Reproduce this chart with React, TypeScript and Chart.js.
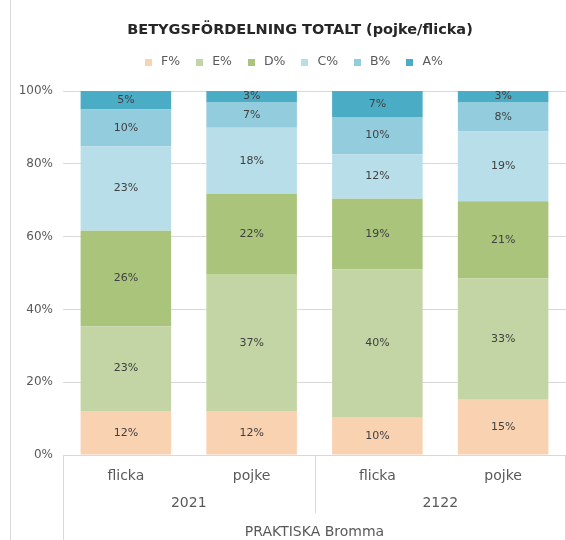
import React, { useEffect, useRef } from "react";
import { Chart, registerables } from "chart.js";

Chart.register(...registerables);

const FONT = "'DejaVu Sans', 'Liberation Sans', sans-serif";

const titleText = "BETYGSFÖRDELNING TOTALT (pojke/flicka)";
const categories = ["flicka", "pojke", "flicka", "pojke"];
const years = ["2021", "2122"];
const schoolLabel = "PRAKTISKA Bromma";
const seriesNames = ["F%", "E%", "D%", "C%", "B%", "A%"];
const F = [12, 12, 10, 15];
const E = [23, 37, 40, 33];
const D = [26, 22, 19, 21];
const C = [23, 18, 12, 19];
const B = [10, 7, 10, 8];
const A = [5, 3, 7, 3];
const yTicks = [0, 20, 40, 60, 80, 100];
const seriesColors = ["#F9D2B2", "#C3D5A4", "#AAC57B", "#B8DEE9", "#93CDDD", "#4BACC6"];

const seriesValues = [F, E, D, C, B, A];

const headerPlugin = {
  id: "header",
  afterDraw(chart: any) {
    const ctx = chart.ctx;
    ctx.save();
    ctx.textBaseline = "middle";
    ctx.textAlign = "center";
    ctx.fillStyle = "#262626";
    ctx.font = `bold 14.5px ${FONT}`;
    ctx.fillText(titleText, 300, 30);

    // legend
    ctx.font = `12.5px ${FONT}`;
    const box = 7;
    const gap = 9;
    const between = 16;
    const widths = seriesNames.map((n) => box + gap + ctx.measureText(n).width);
    const total = widths.reduce((s, w) => s + w, 0) + between * (widths.length - 1);
    let x = 294 - total / 2;
    const y = 62;
    ctx.textAlign = "left";
    seriesNames.forEach((n, i) => {
      ctx.fillStyle = seriesColors[i];
      ctx.fillRect(Math.round(x), Math.round(y - box / 2), box, box);
      ctx.fillStyle = "#595959";
      ctx.fillText(n, x + box + gap, y);
      x += widths[i] + between;
    });
    ctx.restore();
  },
};

const barLabels = {
  id: "barLabels",
  afterDatasetsDraw(chart: any) {
    const ctx = chart.ctx;
    ctx.save();
    ctx.font = `11px ${FONT}`;
    ctx.fillStyle = "#404040";
    ctx.textAlign = "center";
    ctx.textBaseline = "middle";
    chart.data.datasets.forEach((_ds: any, di: number) => {
      const meta = chart.getDatasetMeta(di);
      meta.data.forEach((el: any, i: number) => {
        const y = (el.y + el.base) / 2;
        ctx.fillText(seriesValues[di][i] + "%", el.x, y);
      });
    });
    ctx.restore();
  },
};

const multiAxis = {
  id: "multiAxis",
  afterDraw(chart: any) {
    const ctx = chart.ctx;
    const { left, right, bottom } = chart.chartArea;
    const H = chart.height;
    const xs = chart.scales.x;
    ctx.save();
    ctx.strokeStyle = "#d9d9d9";
    ctx.lineWidth = 1;
    const line = (x1: number, y1: number, x2: number, y2: number) => {
      ctx.beginPath();
      ctx.moveTo(x1, y1);
      ctx.lineTo(x2, y2);
      ctx.stroke();
    };
    // outer left border
    line(10.5, 0, 10.5, H);
    line(left, Math.round(bottom) + 0.5, right, Math.round(bottom) + 0.5);
    line(Math.round(left) + 0.5, bottom, Math.round(left) + 0.5, H);
    line(Math.round(right) - 0.5, bottom, Math.round(right) - 0.5, H);
    const mid = (xs.getPixelForValue(1) + xs.getPixelForValue(2)) / 2;
    line(Math.round(mid) + 0.5, bottom, Math.round(mid) + 0.5, bottom + 58);

    ctx.fillStyle = "#595959";
    ctx.textAlign = "center";
    ctx.textBaseline = "middle";
    ctx.font = `14px ${FONT}`;
    categories.forEach((c, i) => {
      ctx.fillText(c, xs.getPixelForValue(i), bottom + 21);
    });
    years.forEach((yr, g) => {
      const cx = (xs.getPixelForValue(g * 2) + xs.getPixelForValue(g * 2 + 1)) / 2;
      ctx.fillText(yr, cx, bottom + 48);
    });
    ctx.fillText(schoolLabel, (left + right) / 2, bottom + 77);
    ctx.restore();
  },
};

export default function App() {
  const ref = useRef<HTMLCanvasElement | null>(null);
  useEffect(() => {
    if (!ref.current) return;
    const totals = categories.map((_, i) => seriesValues.reduce((s, arr) => s + arr[i], 0));
    const chart = new Chart(ref.current, {
      type: "bar",
      data: {
        labels: categories,
        datasets: seriesNames.map((name, di) => ({
          label: name,
          data: seriesValues[di].map((v, i) => (v / totals[i]) * 100),
          backgroundColor: seriesColors[di],
          borderWidth: 0,
          categoryPercentage: 1,
          barPercentage: 0.72,
        })),
      },
      options: {
        responsive: false,
        animation: false,
        devicePixelRatio: 1,
        layout: { padding: { left: 0, right: 34, top: 91, bottom: 85 } },
        plugins: {
          title: { display: false },
          legend: { display: false },
          tooltip: { enabled: false },
        },
        scales: {
          x: {
            stacked: true,
            display: false,
          },
          y: {
            stacked: true,
            min: 0,
            max: 100,
            afterFit: (scale: any) => {
              scale.width = 63;
            },
            afterBuildTicks: (scale: any) => {
              scale.ticks = yTicks.map((v) => ({ value: v }));
            },
            ticks: {
              color: "#595959",
              font: { family: FONT, size: 12 },
              padding: 10,
              callback: (v: any) => v + "%",
            },
            grid: { color: "#d9d9d9", drawTicks: false },
            border: { display: false },
          },
        },
      },
      plugins: [barLabels, multiAxis, headerPlugin],
    });
    return () => chart.destroy();
  }, []);

  return (
    <div style={{ position: "fixed", left: 0, top: 0, width: 566, height: 540, overflow: "hidden", background: "#fff" }}>
      <canvas ref={ref} width={600} height={540} style={{ display: "block" }} />
    </div>
  );
}
